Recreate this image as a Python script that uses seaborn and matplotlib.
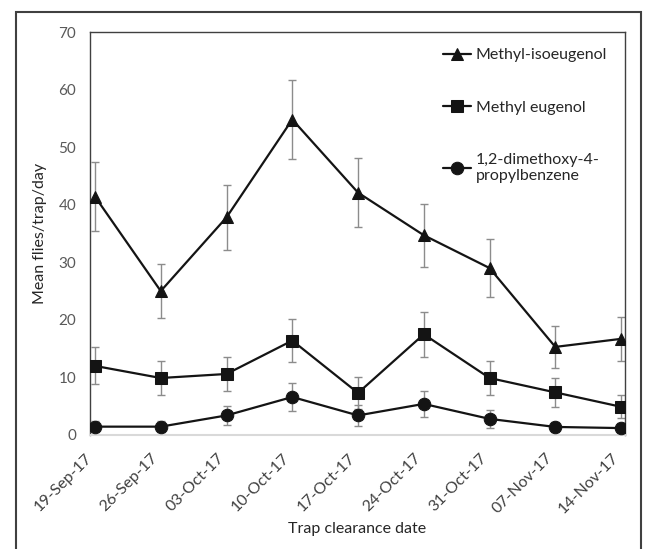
import matplotlib
matplotlib.use("Agg")
import matplotlib.pyplot as plt
import matplotlib.transforms as mtransforms
import seaborn as sns
import numpy as np
from matplotlib.patches import Rectangle

dates = ['19-Sep-17', '26-Sep-17', '03-Oct-17', '10-Oct-17', '17-Oct-17',
         '24-Oct-17', '31-Oct-17', '07-Nov-17', '14-Nov-17']
iso_mean = [41.4, 25.0, 37.8, 54.8, 42.1, 34.7, 29.0, 15.3, 16.7]
iso_se = [6.0, 4.7, 5.6, 6.9, 6.0, 5.5, 5.0, 3.7, 3.8]
me_mean = [12.0, 9.9, 10.6, 16.4, 7.3, 17.5, 9.9, 7.4, 4.9]
me_se = [3.2, 3.0, 3.0, 3.7, 2.7, 3.9, 3.0, 2.5, 2.0]
dmp_mean = [1.45, 1.45, 3.4, 6.6, 3.4, 5.4, 2.8, 1.4, 1.2]
dmp_se = [1.0, 1.0, 1.7, 2.4, 1.8, 2.2, 1.6, 0.8, 0.8]

series = [
    ("Methyl-isoeugenol", iso_mean, iso_se, "^", 9),
    ("Methyl eugenol", me_mean, me_se, "s", 9),
    ("1,2-dimethoxy-4-\npropylbenzene", dmp_mean, dmp_se, "o", 9),
]

sns.set_style("white")
plt.rcParams['font.family'] = ['Lato', 'DejaVu Sans']

fig = plt.figure(figsize=(6.45, 5.49), dpi=100)
ax = fig.add_axes([90 / 645, 1 - 435 / 549, 535 / 645, 403 / 549])

x = np.arange(len(dates))
for label, mean, se, mk, ms in series:
    ax.errorbar(x, mean, yerr=se, fmt='none', ecolor='#8c8c8c', elinewidth=1,
                capsize=3, capthick=1, zorder=1)
    sns.lineplot(x=x, y=mean, ax=ax, color='#141414', linewidth=1.6, marker=mk,
                 markersize=ms, markeredgecolor='#141414', label=label, zorder=3)

ax.set_ylim(0, 70)
ax.set_yticks(range(0, 71, 10))
ax.set_xlim(-0.076, 8.06)
ax.set_xticks(x - 0.076)
ax.set_xticklabels(dates, rotation=45, ha='right', va='center',
                   rotation_mode='anchor')
shift = mtransforms.ScaledTranslation(7 / 100, 0, fig.dpi_scale_trans)
for lab in ax.get_xticklabels():
    lab.set_transform(lab.get_transform() + shift)

ax.tick_params(axis='y', length=0, pad=10, labelsize=11, labelcolor='#595959')
ax.tick_params(axis='x', length=5, width=1, color='#d9d9d9', direction='out',
               pad=10, labelsize=11.5, labelcolor='#404040')

for side in ['top', 'right', 'left']:
    ax.spines[side].set_color('#404040')
    ax.spines[side].set_linewidth(1)
ax.spines['bottom'].set_color('#d9d9d9')
ax.spines['bottom'].set_linewidth(1.5)

ax.set_xlabel("Trap clearance date", fontsize=11.5, color='#262626', labelpad=4)
ax.set_ylabel("Mean flies/trap/day", fontsize=11.5, color='#262626', labelpad=8)

leg = ax.legend(loc='upper left', bbox_to_anchor=((427 - 90) / 535, 1.0),
                frameon=False, fontsize=11.5, handlelength=1.75, labelspacing=2.4,
                handletextpad=0.3, borderaxespad=0.6)
for t in leg.get_texts():
    t.set_color('#262626')

fig.patches.append(Rectangle((16 / 645, -0.05), (641 - 16) / 645, 1.05 - 12 / 549,
                             transform=fig.transFigure, fill=False,
                             edgecolor='#404040', linewidth=1.5))

fig.savefig("out.png", dpi=100)
